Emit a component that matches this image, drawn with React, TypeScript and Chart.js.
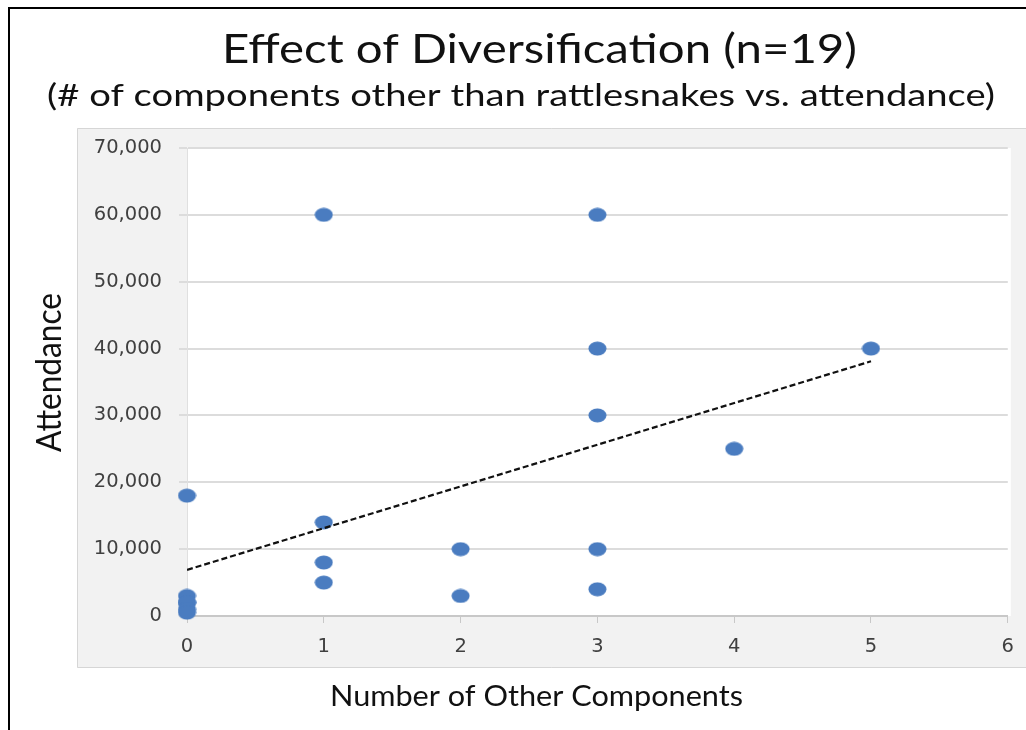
import React, { useEffect, useRef } from 'react';
import { Chart, registerables } from 'chart.js';

Chart.register(...registerables);

// ---- data ----
const componentCounts = [0, 0, 0, 0, 0, 0, 1, 1, 1, 1, 2, 2, 3, 3, 3, 3, 3, 4, 5];
const attendance = [18000, 3000, 2000, 2000, 1000, 500, 60000, 14000, 8000, 5000, 10000, 3000, 60000, 40000, 30000, 10000, 4000, 25000, 40000];
const trendX = [0, 5];
const trendY = [6900, 38100];

const xMin = 0;
const xMax = 6;
const xStep = 1;
const yMin = 0;
const yMax = 70000;
const yStep = 10000;

const titleText = 'Effect of Diversification (n=19)';
const subtitleText = '(# of components other than rattlesnakes vs. attendance)';
const xAxisTitle = 'Number of Other Components';
const yAxisTitle = 'Attendance';

const POINT_COLOR = '#4a7cc0';

function makeEllipse(): HTMLCanvasElement {
  const c = document.createElement('canvas');
  c.width = 19;
  c.height = 15;
  const g = c.getContext('2d')!;
  g.fillStyle = POINT_COLOR;
  g.beginPath();
  g.ellipse(9.5, 7.5, 9, 7, 0, 0, Math.PI * 2);
  g.fill();
  return c;
}

function drawFitted(
  ctx: CanvasRenderingContext2D,
  text: string,
  x: number,
  y: number,
  fontPx: number,
  targetLen: number,
  rotate = false
) {
  ctx.save();
  ctx.font = `${fontPx}px Lato, "Open Sans", sans-serif`;
  const w = ctx.measureText(text).width;
  const s = targetLen / w;
  ctx.translate(x, y);
  if (rotate) ctx.rotate(-Math.PI / 2);
  ctx.scale(s, 1);
  ctx.textAlign = 'center';
  ctx.textBaseline = 'alphabetic';
  ctx.fillStyle = '#111111';
  ctx.fillText(text, 0, 0);
  ctx.restore();
}

const framePlugin = {
  id: 'frame',
  beforeDraw(chart: any) {
    const { ctx, chartArea } = chart;
    ctx.save();
    ctx.fillStyle = '#ffffff';
    ctx.fillRect(0, 0, chart.width, chart.height);
    // outer black frame (top and left visible)
    ctx.fillStyle = '#000000';
    ctx.fillRect(8, 7, chart.width - 8, 2);
    ctx.fillRect(8, 7, 2, chart.height - 7);
    // grey panel
    ctx.fillStyle = '#f2f2f2';
    ctx.fillRect(77, 128, chart.width - 77, 540);
    ctx.strokeStyle = '#d6d6d6';
    ctx.lineWidth = 1;
    ctx.beginPath();
    ctx.moveTo(chart.width, 128.5);
    ctx.lineTo(77.5, 128.5);
    ctx.lineTo(77.5, 667.5);
    ctx.lineTo(chart.width, 667.5);
    ctx.stroke();
    // white plot area
    ctx.fillStyle = '#ffffff';
    ctx.fillRect(chartArea.left, chartArea.top, chartArea.right - chartArea.left + 3, chartArea.bottom - chartArea.top);
    ctx.restore();
  },
  afterDraw(chart: any) {
    const ctx = chart.ctx;
    drawFitted(ctx, titleText, 539.5, 63, 41, 635);
    drawFitted(ctx, subtitleText, 521, 106, 31, 948);
    drawFitted(ctx, xAxisTitle, 536.5, 706, 29, 413);
    drawFitted(ctx, yAxisTitle, 61, 372.5, 34, 159, true);
  },
};

export default function App() {
  const canvasRef = useRef<HTMLCanvasElement | null>(null);

  useEffect(() => {
    if (!canvasRef.current) return;
    const pointImg = makeEllipse();
    const points = componentCounts.map((x, i) => ({ x, y: attendance[i] }));
    const trend = trendX.map((x, i) => ({ x, y: trendY[i] }));

    const chart = new Chart(canvasRef.current, {
      type: 'scatter',
      data: {
        datasets: [
          {
            label: 'Trend',
            data: trend,
            showLine: true,
            borderColor: '#111111',
            borderWidth: 2.2,
            borderDash: [6, 3],
            pointRadius: 0,
            fill: false,
          },
          {
            label: 'Attendance',
            data: points,
            pointStyle: pointImg as any,
            backgroundColor: POINT_COLOR,
            borderColor: POINT_COLOR,
            clip: false as any,
          },
        ],
      },
      options: {
        responsive: false,
        animation: false,
        devicePixelRatio: 1,
        layout: { padding: { left: 77, top: 148, right: 17, bottom: 63 } },
        plugins: {
          legend: { display: false },
          tooltip: { enabled: false },
          title: { display: false },
        },
        scales: {
          x: {
            type: 'linear',
            min: xMin,
            max: xMax,
            afterFit: (scale: any) => {
              scale.height = 51;
            },
            ticks: {
              stepSize: xStep,
              color: '#404040',
              padding: 12,
              font: { family: '"DejaVu Sans"', size: 19.5 },
            },
            grid: {
              drawOnChartArea: false,
              drawTicks: true,
              tickLength: 7,
              color: '#c8c8c8',
            },
            border: { display: true, color: '#c8c8c8', width: 2 },
          },
          y: {
            type: 'linear',
            min: yMin,
            max: yMax,
            afterFit: (scale: any) => {
              scale.width = 110;
            },
            ticks: {
              stepSize: yStep,
              color: '#404040',
              padding: 17,
              font: { family: '"DejaVu Sans"', size: 19.5 },
              callback: (v: any) => Number(v).toLocaleString('en-US'),
            },
            grid: {
              color: '#dcdcdc',
              lineWidth: 2,
              drawTicks: true,
              tickLength: 8,
            },
            border: { display: true, color: '#e0e0e0', width: 1 },
          },
        },
      },
      plugins: [framePlugin],
    });

    return () => chart.destroy();
  }, []);

  return (
    <div style={{ position: 'absolute', left: 0, top: 0, width: 1026, height: 730 }}>
      <canvas ref={canvasRef} width={1026} height={730} style={{ display: 'block' }} />
    </div>
  );
}
